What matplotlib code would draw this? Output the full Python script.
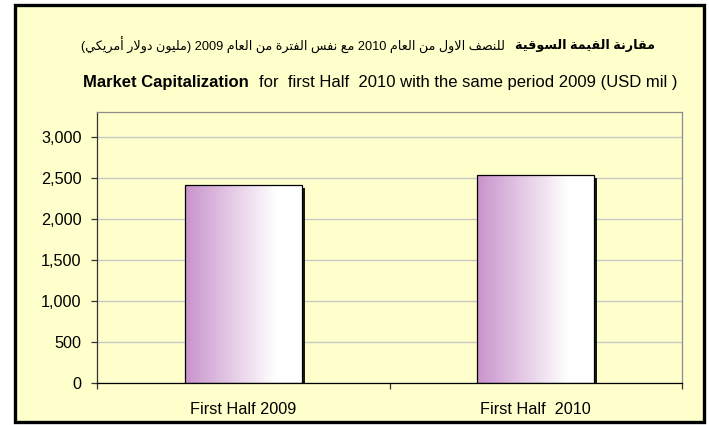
import numpy as np
import matplotlib
matplotlib.use("Agg")
import matplotlib.pyplot as plt
from matplotlib.colors import LinearSegmentedColormap
from matplotlib.patches import Rectangle
import matplotlib.patheffects as pe
from matplotlib.ticker import StrMethodFormatter, FixedLocator

# data
categories = ["First Half 2009", "First Half  2010"]
values = [2410, 2535]
yticks = [0, 500, 1000, 1500, 2000, 2500, 3000]

title_ar_bold = "مقارنة القيمة السوقية"
title_ar_rest = "للنصف الاول من العام 2010 مع نفس الفترة من العام 2009 (مليون دولار أمريكي)"
title_en_bold = "Market Capitalization"
title_en_rest = "for  first Half  2010 with the same period 2009 (USD mil )"

# matplotlib has no arabic shaping, so pick the contextual forms by hand
FORMS = {
    'ا': (0xFE8D, 0xFE8E, None, None),
    'أ': (0xFE83, 0xFE84, None, None),
    'ة': (0xFE93, 0xFE94, None, None),
    'د': (0xFEA9, 0xFEAA, None, None),
    'ر': (0xFEAD, 0xFEAE, None, None),
    'و': (0xFEED, 0xFEEE, None, None),
    'ت': (0xFE95, 0xFE96, 0xFE97, 0xFE98),
    'س': (0xFEB1, 0xFEB2, 0xFEB3, 0xFEB4),
    'ص': (0xFEB9, 0xFEBA, 0xFEBB, 0xFEBC),
    'ع': (0xFEC9, 0xFECA, 0xFECB, 0xFECC),
    'ف': (0xFED1, 0xFED2, 0xFED3, 0xFED4),
    'ق': (0xFED5, 0xFED6, 0xFED7, 0xFED8),
    'ك': (0xFED9, 0xFEDA, 0xFEDB, 0xFEDC),
    'ل': (0xFEDD, 0xFEDE, 0xFEDF, 0xFEE0),
    'م': (0xFEE1, 0xFEE2, 0xFEE3, 0xFEE4),
    'ن': (0xFEE5, 0xFEE6, 0xFEE7, 0xFEE8),
    'ي': (0xFEF1, 0xFEF2, 0xFEF3, 0xFEF4),
}
LAM_ALEF = {'ا': (0xFEFB, 0xFEFC), 'أ': (0xFEF7, 0xFEF8)}


def shape_word(word):
    out = []
    i = 0
    n = len(word)
    while i < n:
        c = word[i]
        prev_joins = i > 0 and FORMS[word[i-1]][2] is not None
        if c == 'ل' and i + 1 < n and word[i+1] in LAM_ALEF:
            iso, fin = LAM_ALEF[word[i+1]]
            out.append(chr(fin if prev_joins else iso))
            i += 2
            continue
        f = FORMS[c]
        next_joins = i + 1 < n and f[2] is not None
        if prev_joins and next_joins:
            g = f[3]
        elif prev_joins:
            g = f[1]
        elif next_joins:
            g = f[2]
        else:
            g = f[0]
        out.append(chr(g))
        i += 1
    return ''.join(reversed(out))


def visual(s):
    toks = []
    for tok in s.split(' '):
        if any(ch in FORMS for ch in tok):
            lead = tok.startswith('(')
            trail = tok.endswith(')')
            w = shape_word(tok.strip('()'))
            tok = ('(' if trail else '') + w + (')' if lead else '')
        toks.append(tok)
    return ' '.join(reversed(toks))


W, H = 709, 425
fig = plt.figure(figsize=(W/100, H/100), dpi=100)
fig.patch.set_facecolor('white')

yellow = '#FFFFCC'
fig.add_artist(Rectangle((15/W, 3/H), 689/W, 417/H, transform=fig.transFigure,
                         facecolor=yellow, edgecolor='black', lw=2.4, zorder=0))

ax = fig.add_axes([97/W, 42/H, 585/W, 271/H])
ax.set_facecolor(yellow)
ax.set_zorder(1)

x = np.arange(len(categories))
bars = ax.bar(x, values, width=0.4, color='none', edgecolor='black', lw=0.9, zorder=3)

cmap = LinearSegmentedColormap.from_list('pw', [(0, '#C993CC'), (0.78, '#FFFFFF'), (1, '#FFFFFF')])
grad = np.linspace(0, 1, 256).reshape(1, -1)
for b in bars:
    x0, y0 = b.get_x(), b.get_y()
    shadow = Rectangle((x0, y0), b.get_width(), b.get_height(), facecolor='none',
                       edgecolor='none', zorder=2,
                       path_effects=[pe.SimplePatchShadow(offset=(2, -2), shadow_rgbFace='black', alpha=0.9)])
    ax.add_patch(shadow)
    im = ax.imshow(grad, cmap=cmap, aspect='auto', zorder=2.5,
                   extent=(x0, x0 + b.get_width(), y0, y0 + b.get_height()))
    im.set_clip_path(b)

ax.set_xlim(-0.5, 1.5)
ax.set_ylim(0, 3300)
ax.set_yticks(yticks)
ax.yaxis.set_major_formatter(StrMethodFormatter('{x:,.0f}'))
ax.grid(axis='y', color='#C8C8C8', lw=1.0, zorder=1)
ax.set_axisbelow(True)

ax.set_xticks(x)
ax.set_xticklabels(categories)
ax.xaxis.set_minor_locator(FixedLocator([-0.5, 0.5, 1.5]))
ax.tick_params(axis='x', which='major', length=0, pad=14, labelsize=11.7)
ax.tick_params(axis='x', which='minor', length=4.5, width=0.9, color='#333333')
ax.tick_params(axis='y', length=4, width=0.9, pad=7, labelsize=11.7, color='#333333')

for s in ['top', 'right']:
    ax.spines[s].set_color('#8C8C8C')
ax.spines['left'].set_color('#333333')
ax.spines['bottom'].set_color('black')
for s in ax.spines.values():
    s.set_linewidth(0.9)

for lbl in ax.get_xticklabels() + ax.get_yticklabels():
    lbl.set_family(['Liberation Sans', 'DejaVu Sans'])

fam = ['Liberation Sans', 'DejaVu Sans']


def draw_runs(runs, xc, y, size, gap):
    r = fig.canvas.get_renderer()
    texts = [fig.text(0, y/H, s, fontsize=size, fontweight=w, family=fam,
                      va='center', ha='left') for s, w in runs]
    widths = [t.get_window_extent(r).width for t in texts]
    total = sum(widths) + gap * (len(texts) - 1)
    xp = xc - total / 2
    for t, wd in zip(texts, widths):
        t.set_x(xp / W)
        xp += wd + gap


draw_runs([(visual(title_ar_rest), 'normal'), (visual(title_ar_bold), 'bold')],
          368, H - 45, 9.2, 10)
draw_runs([(title_en_bold, 'bold'), (title_en_rest, 'normal')],
          380, H - 82, 12, 10)

fig.savefig('out.png', dpi=100, facecolor='white')
